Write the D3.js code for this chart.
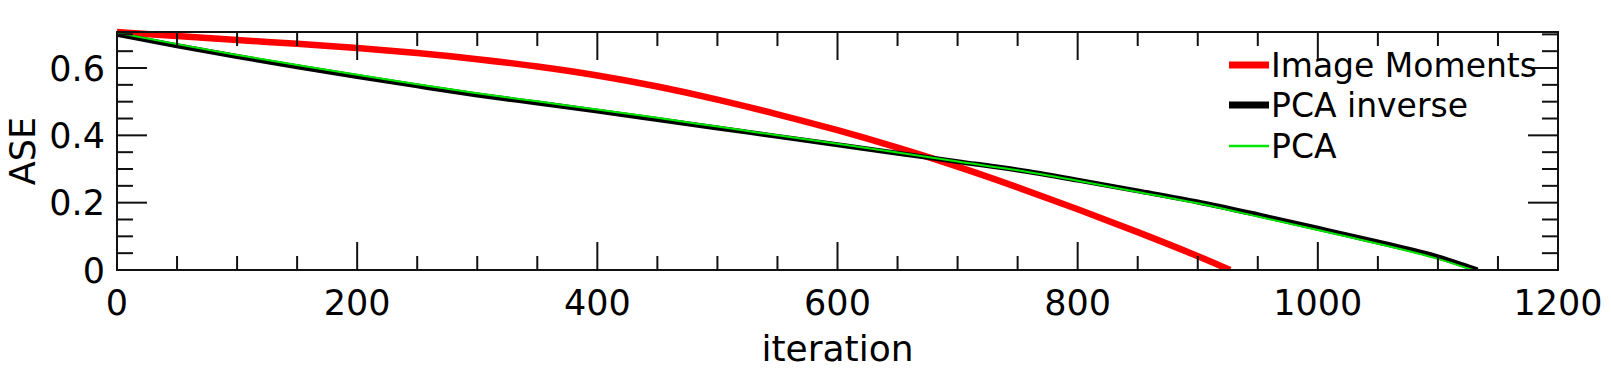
<!DOCTYPE html>
<html>
<head>
<meta charset="utf-8">
<script src="https://cdn.jsdelivr.net/npm/d3@7"></script>
<style>
  html, body { margin: 0; padding: 0; background: #fff; }
  svg { display: block; font-family: "DejaVu Sans", sans-serif; }
</style>
</head>
<body>
<svg id="chart" width="1611" height="371"></svg>
<script>
// values
const imageMomentsIter = [0, 50, 100, 150, 200, 250, 300, 350, 400, 450, 500, 550, 600, 650, 700, 750, 800, 850, 900, 927];
const imageMomentsASE  = [0.707, 0.695, 0.683, 0.672, 0.660, 0.645, 0.627, 0.605, 0.579, 0.546, 0.507, 0.463, 0.416, 0.364, 0.308, 0.246, 0.181, 0.113, 0.042, 0];

const pcaInverseIter = [0, 50, 100, 150, 200, 250, 300, 350, 400, 450, 500, 550, 600, 650, 700, 750, 800, 850, 900, 950, 1000, 1050, 1100, 1133];
const pcaInverseASE  = [0.700, 0.666, 0.634, 0.604, 0.575, 0.547, 0.520, 0.496, 0.472, 0.447, 0.422, 0.397, 0.372, 0.347, 0.322, 0.297, 0.267, 0.235, 0.202, 0.164, 0.124, 0.083, 0.039, 0];

const pcaIter = [0, 50, 100, 150, 200, 250, 300, 350, 400, 450, 500, 550, 600, 650, 700, 750, 800, 850, 900, 950, 1000, 1050, 1100, 1129];
const pcaASE  = [0.705, 0.671, 0.639, 0.609, 0.580, 0.552, 0.525, 0.501, 0.477, 0.452, 0.426, 0.400, 0.375, 0.349, 0.322, 0.296, 0.265, 0.232, 0.198, 0.159, 0.119, 0.078, 0.033, 0];

const xMajorTicks = [0, 200, 400, 600, 800, 1000, 1200];
const yMajorTicks = [0, 0.2, 0.4, 0.6];
const yTickLabels = ['0', '0.2', '0.4', '0.6'];

const seriesNames = ['Image Moments', 'PCA inverse', 'PCA'];
const seriesColors = ['#ff0000', '#000000', '#00e600'];

const series = [
  { name: seriesNames[0], color: seriesColors[0], width: 6.5, legendWidth: 7, xs: imageMomentsIter, ys: imageMomentsASE, curve: d3.curveBasis },
  { name: seriesNames[1], color: seriesColors[1], width: 5, legendWidth: 7, xs: pcaInverseIter, ys: pcaInverseASE, curve: d3.curveMonotoneX },
  { name: seriesNames[2], color: seriesColors[2], width: 2, legendWidth: 2.5, xs: pcaIter, ys: pcaASE, curve: d3.curveMonotoneX },
];

const svg = d3.select('#chart');
const margin = { top: 32, right: 53, bottom: 101, left: 117 };
const W = 1611, H = 371;
const innerW = W - margin.left - margin.right;
const innerH = H - margin.top - margin.bottom;

const x = d3.scaleLinear().domain([0, 1200]).range([0, innerW]);
const y = d3.scaleLinear().domain([0, 0.707]).range([innerH, 0]);

const g = svg.append('g').attr('transform', `translate(${margin.left},${margin.top})`);

// data lines (clipped to the frame)
svg.append('defs').append('clipPath').attr('id', 'clip')
  .append('rect').attr('x', -1).attr('y', -4).attr('width', innerW + 2).attr('height', innerH + 4);

const plot = g.append('g').attr('clip-path', 'url(#clip)');
series.forEach(s => {
  const pts = s.xs.map((v, i) => [v, s.ys[i]]);
  const line = d3.line().x(d => x(d[0])).y(d => y(d[1])).curve(s.curve);
  plot.append('path').datum(pts)
    .attr('d', line)
    .attr('fill', 'none')
    .attr('stroke', s.color)
    .attr('stroke-width', s.width)
    .attr('stroke-linejoin', 'round');
});

// axes: ticks on all four sides, pointing inward
const xMinor = d3.range(0, 1201, 50).filter(v => !xMajorTicks.includes(v));
const yMinor = d3.range(0, 0.701, 0.05).map(v => +v.toFixed(2)).filter(v => !yMajorTicks.includes(v));

const tickStroke = '#111';
function tickSet(sel, vals, len, horizontal) {
  vals.forEach(v => {
    if (horizontal) {
      sel.append('line').attr('x1', x(v)).attr('x2', x(v)).attr('y1', innerH).attr('y2', innerH - len);
      sel.append('line').attr('x1', x(v)).attr('x2', x(v)).attr('y1', 0).attr('y2', len);
    } else {
      sel.append('line').attr('y1', y(v)).attr('y2', y(v)).attr('x1', 0).attr('x2', len);
      sel.append('line').attr('y1', y(v)).attr('y2', y(v)).attr('x1', innerW).attr('x2', innerW - len);
    }
  });
}
const ticks = g.append('g').attr('stroke', tickStroke).attr('stroke-width', 2);
tickSet(ticks, xMajorTicks, 28, true);
tickSet(ticks, xMinor, 14, true);
tickSet(ticks, yMajorTicks, 30, false);
tickSet(ticks, yMinor, 16, false);

g.append('rect').attr('width', innerW).attr('height', innerH)
  .attr('fill', 'none').attr('stroke', tickStroke).attr('stroke-width', 2);

// tick labels
g.append('g').selectAll('text').data(xMajorTicks).join('text')
  .attr('x', d => x(d)).attr('y', innerH + 45)
  .attr('text-anchor', 'middle').attr('font-size', 35).attr('fill', '#000')
  .text(d => d);

g.append('g').selectAll('text').data(yMajorTicks).join('text')
  .attr('x', -12).attr('y', d => y(d) + 12.5)
  .attr('text-anchor', 'end').attr('font-size', 35).attr('fill', '#000')
  .text((d, i) => yTickLabels[i]);

// axis titles
svg.append('text').attr('x', margin.left + innerW / 2).attr('y', 361)
  .attr('text-anchor', 'middle').attr('font-size', 36).attr('fill', '#000').text('iteration');
svg.append('text').attr('transform', `translate(35,${margin.top + innerH / 2}) rotate(-90)`)
  .attr('text-anchor', 'middle').attr('font-size', 35).attr('fill', '#000').text('ASE');

// legend
const legendRowsY = [65, 105, 146];
const lg = svg.append('g');
series.forEach((s, i) => {
  lg.append('line').attr('x1', 1229).attr('x2', 1269).attr('y1', legendRowsY[i]).attr('y2', legendRowsY[i])
    .attr('stroke', s.color).attr('stroke-width', s.legendWidth);
  lg.append('text').attr('x', 1271).attr('y', legendRowsY[i] + 11.5)
    .attr('font-size', 33).attr('fill', '#000').text(s.name);
});
</script>
</body>
</html>
